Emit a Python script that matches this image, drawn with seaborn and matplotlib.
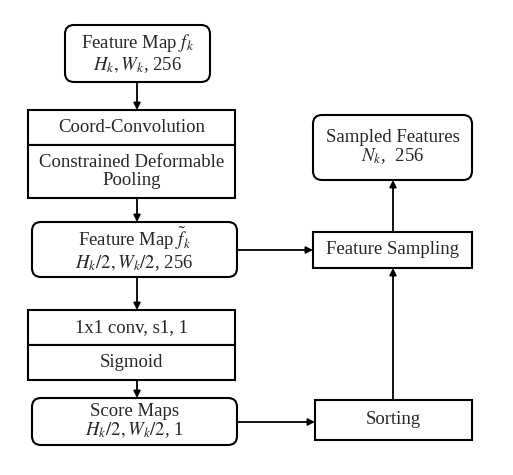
import matplotlib.pyplot as plt
import seaborn as sns
from matplotlib.patches import FancyBboxPatch, Rectangle

sns.set_style("white")
plt.rcParams["font.family"] = ["Liberation Serif", "DejaVu Serif"]
plt.rcParams["mathtext.fontset"] = "stix"

# node labels
rounded_labels = [
    "Feature Map $f_k$\n$H_k, W_k$, 256",
    "Feature Map $\\tilde{f}_k$\n$H_k/2, W_k/2$, 256",
    "Score Maps\n$H_k/2, W_k/2$, 1",
    "Sampled Features\n$N_k$,  256",
]
rounded_boxes = [(65, 25, 210, 82), (32, 222, 237, 277), (32, 398, 237, 445), (313, 115, 472, 180)]
rect_labels = ["Coord-Convolution", "Constrained Deformable\nPooling", "1x1 conv, s1, 1",
               "Sigmoid", "Feature Sampling", "Sorting"]
rect_boxes = [(28, 110, 235, 145), (28, 145, 235, 198), (28, 310, 235, 345),
              (28, 345, 235, 380), (313, 232, 472, 268), (315, 400, 472, 440)]
arrows = [((137, 82), (137, 110)), ((137, 198), (137, 222)), ((137, 277), (137, 310)),
          ((137, 380), (137, 398)), ((237, 250), (313, 250)), ((237, 422), (315, 422)),
          ((393, 400), (393, 268)), ((393, 232), (393, 180))]

fig, ax = plt.subplots(figsize=(5.13, 4.75), dpi=100)
fig.subplots_adjust(0, 0, 1, 1)
ax.set_xlim(0, 513)
ax.set_ylim(475, 0)
ax.axis("off")

for (x0, y0, x1, y1), lab in zip(rounded_boxes, rounded_labels):
    ax.add_patch(FancyBboxPatch((x0, y0), x1 - x0, y1 - y0, boxstyle="round,pad=0,rounding_size=9",
                                fc="white", ec="black", lw=1.5))
    ax.text((x0 + x1) / 2, (y0 + y1) / 2, lab, ha="center", va="center", fontsize=13.5, linespacing=1.05)

for (x0, y0, x1, y1), lab in zip(rect_boxes, rect_labels):
    ax.add_patch(Rectangle((x0, y0), x1 - x0, y1 - y0, fc="white", ec="black", lw=1.5))
    ax.text((x0 + x1) / 2, (y0 + y1) / 2, lab, ha="center", va="center", fontsize=13.5, linespacing=1.15)

for start, end in arrows:
    ax.annotate("", xy=end, xytext=start,
                arrowprops=dict(arrowstyle="-|>", color="black", lw=1.3, mutation_scale=10,
                                shrinkA=0, shrinkB=0))

fig.savefig("out.png", dpi=100)
